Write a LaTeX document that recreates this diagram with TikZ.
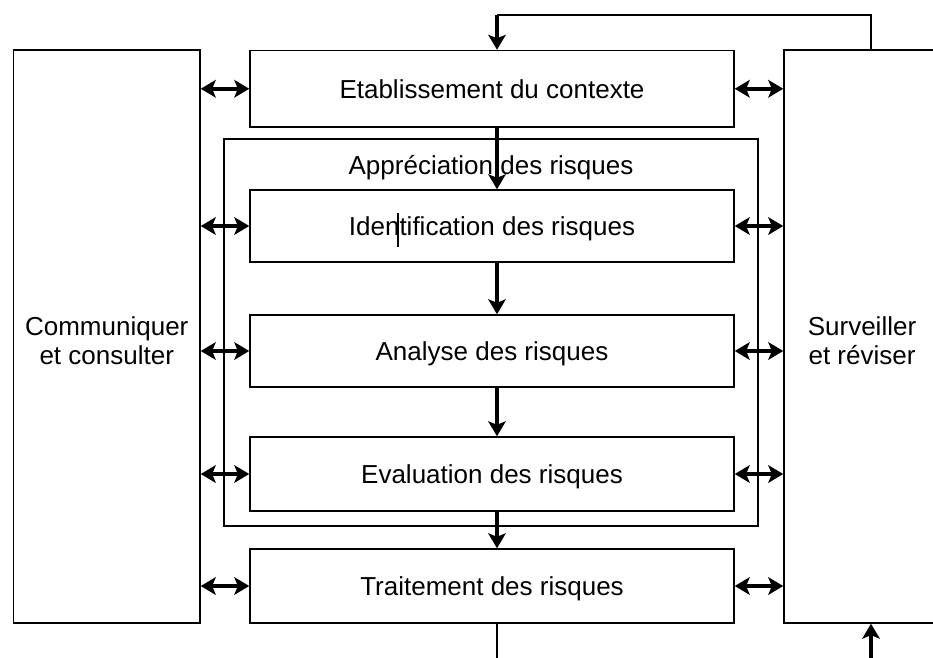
\documentclass[tikz,border=0pt]{standalone}
\usepackage{fontspec}
\setmainfont{Liberation Sans}
\usepackage{tikz}
\usetikzlibrary{arrows.meta,positioning}

\tikzset{
  boite/.style={draw, line width=0.9pt, inner sep=0pt, align=center, text depth=0pt},
  etape/.style={boite, minimum width=9.68cm, minimum height=1.46cm},
  dbl/.style={line width=2.2pt, {Stealth[length=8.5pt,width=10pt,inset=2pt]}-{Stealth[length=8.5pt,width=10pt,inset=2pt]}},
  flux/.style={line width=2.2pt, -{Stealth[length=8.5pt,width=10pt,inset=2pt]}},
  trait/.style={line width=0.9pt}
}

\begin{document}
\begin{tikzpicture}[x=0.02cm, y=-0.02cm]
\fontsize{14.8}{16.5}\selectfont
\clip (0,0) rectangle (933,657);

\node [boite, minimum width=3.73cm, minimum height=11.46cm, text height=32pt] (comm) at (106.75,336.5) {Communiquer\\ et consulter};
\node [boite, minimum width=3.12cm, minimum height=11.46cm, text height=32pt] (surv) at (862,336.5) {Surveiller\\ et r\'eviser};

\node [etape, minimum height=1.53cm] (etab) at (492,88.75) {Etablissement du contexte};
\node [boite, minimum width=10.68cm, minimum height=7.74cm] (apprec) at (491,332.5) {};
\node [text depth=0pt] (titre) at (491,165) {Appr\'eciation des risques};
\node [etape, minimum height=1.44cm] (ident) at (492,226) {Identification des risques};
\node [etape, minimum height=1.44cm] (analyse) at (492,351) {Analyse des risques};
\node [etape, minimum height=1.48cm] (eval) at (492,474) {Evaluation des risques};
\node [etape, minimum height=1.48cm] (traitmt) at (492,586) {Traitement des risques};

% curseur dans le texte
\draw [line width=0.6pt] (398,213) -- (398,247);

\foreach \n in {etab,ident,analyse,eval,traitmt} {
  \draw [dbl] (comm.east |- \n.west) -- (\n.west);
  \draw [dbl] (\n.east) -- (surv.west |- \n.east);
}

\coordinate (axe) at (497,0);
\draw [flux] (etab.south -| axe) -- (ident.north -| axe);
\draw [flux] (ident.south -| axe) -- (analyse.north -| axe);
\draw [flux] (analyse.south -| axe) -- (eval.north -| axe);
\draw [flux] (eval.south -| axe) -- (traitmt.north -| axe);

% boucle de retour
\coordinate (retour) at (871,15);
\coordinate (coin) at (497,15);
\coordinate (bas) at (497,665);
\coordinate (remonte) at (871,665);
\draw [trait] (surv.north -| retour) -- (retour) -- (coin);
\draw [flux] (coin) -- (etab.north -| axe);
\draw [trait] (traitmt.south -| axe) -- (bas);
\draw [flux] (remonte) -- (surv.south -| remonte);
\end{tikzpicture}
\end{document}
